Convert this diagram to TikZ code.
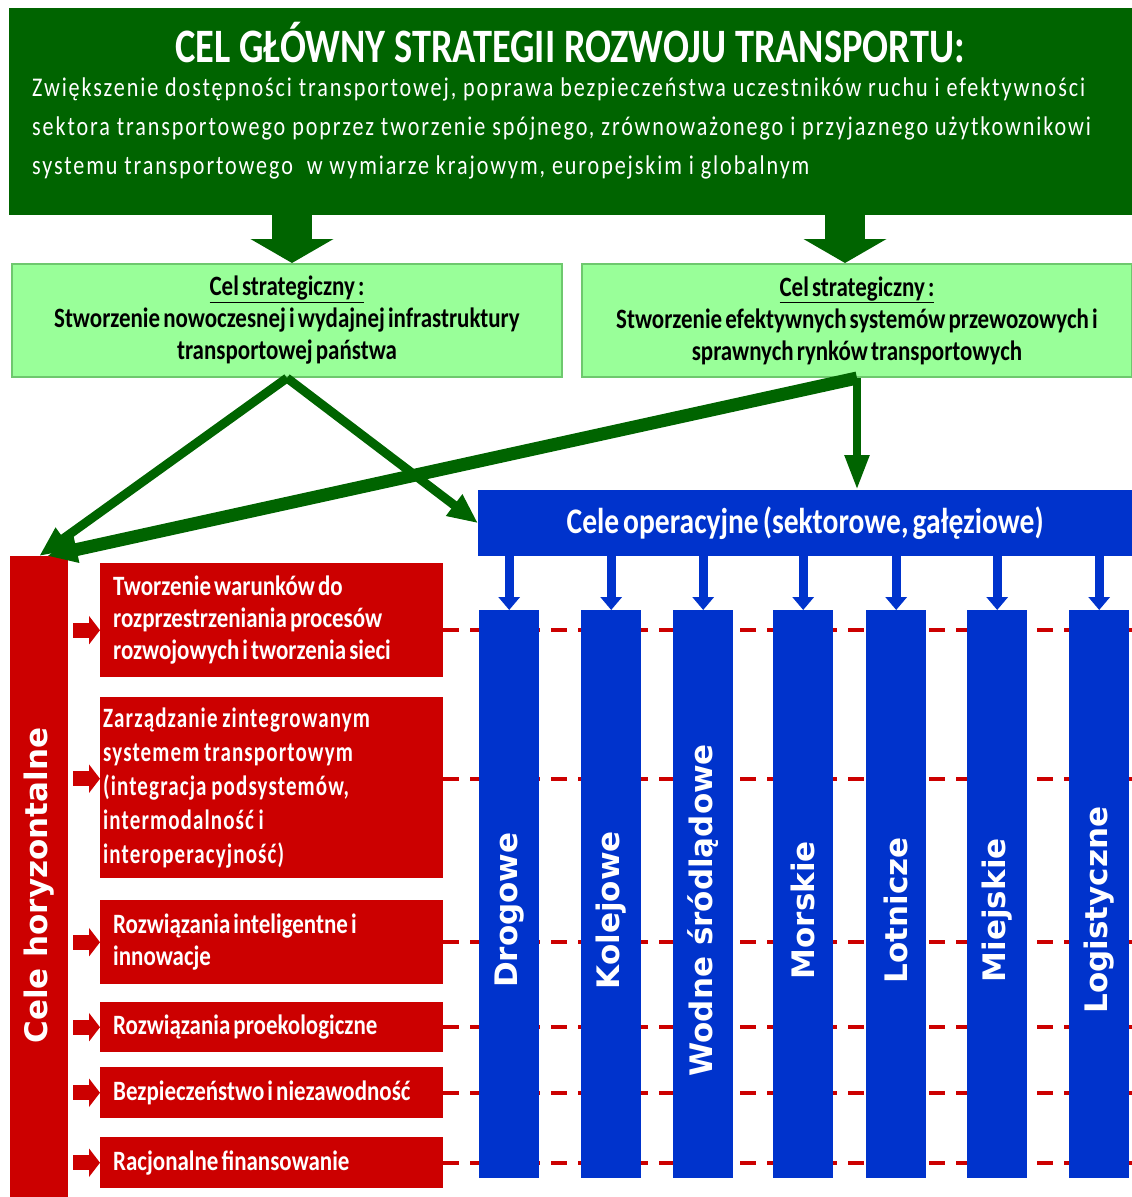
\documentclass[tikz,border=0pt]{standalone}
\usepackage{fontspec}
\usetikzlibrary{arrows.meta}

\newfontfamily\condfont[FakeStretch=0.82,WordSpace=0.6]{Carlito}
\newfontfamily\titlefont[FakeStretch=0.8]{Carlito}
\newfontfamily\condwide[FakeStretch=0.75,LetterSpace=4.0,WordSpace=0.8]{Carlito}
\newfontfamily\bodyfont[FakeStretch=0.82,LetterSpace=7.0]{Carlito}
\newfontfamily\wfont{DejaVu Sans}

\definecolor{darkgreen}{RGB}{0,100,0}
\definecolor{lightgreen}{RGB}{153,255,153}
\definecolor{boxgreen}{RGB}{110,200,110}
\definecolor{opblue}{RGB}{0,51,204}
\definecolor{hred}{RGB}{204,0,0}

\tikzset{
	box/.style={anchor=north west, inner sep=0pt},
	stratbox/.style={box, fill=lightgreen, draw=boxgreen, line width=2pt, minimum width=550pt, minimum height=113pt, align=center, font={\condfont\bfseries\fontsize{28}{32}\selectfont}},
	redbox/.style={box, fill=hred, text=white, minimum width=343pt, inner xsep=13pt, text width=317pt, align=flush left, font={\condfont\bfseries\fontsize{28}{32}\selectfont}},
	colbox/.style={box, fill=opblue, minimum width=60pt, minimum height=568pt},
	coltext/.style={rotate=90, text=white, font={\wfont\bfseries\fontsize{31}{31}\selectfont}},
	bigarrow/.style={darkgreen, line width=40pt, -{Triangle[length=24pt,width=82pt]}},
	greenarrow/.style={darkgreen, line width=9pt, -{Triangle[length=30pt,width=25pt]}},
	bluearrow/.style={opblue, line width=9pt, -{Triangle[length=13pt,width=21pt]}},
	redarrow/.style={hred, line width=15pt, -{Triangle[length=11pt,width=28pt]}},
	dashline/.style={hred, line width=4pt, dash pattern=on 16pt off 11pt}
}

\begin{document}
\begin{tikzpicture}[x=1pt, y=-1pt]
	\useasboundingbox (0,0) rectangle (1132,1197);
	\coordinate (rightedge) at (1132,0);

	\node[box, fill=darkgreen, minimum width=1123pt, minimum height=207pt] (main) at (9,8) {};
	\node[text=white, font={\titlefont\bfseries\fontsize{48}{48}\selectfont}] (title) at (570,43) {CEL GŁÓWNY STRATEGII ROZWOJU TRANSPORTU:};
	\node[box, text=white, align=left, font={\bodyfont\fontsize{27}{39}\selectfont}] (goal) at (32,78) {Zwiększenie dostępności transportowej, poprawa bezpieczeństwa uczestników ruchu i efektywności\\sektora transportowego poprzez tworzenie spójnego, zrównoważonego i przyjaznego użytkownikowi\\systemu transportowego \ w wymiarze krajowym, europejskim i globalnym};

	\node[stratbox] (stratL) at (11,263) {\underline{Cel strategiczny :}\\Stworzenie nowoczesnej i wydajnej infrastruktury\\transportowej państwa};
	\node[stratbox] (stratR) at (581,263) {\underline{Cel strategiczny :}\\Stworzenie efektywnych systemów przewozowych i\\sprawnych rynków transportowych};

	\node[box, fill=opblue, minimum width=654pt, minimum height=66pt, text=white, font={\condfont\bfseries\fontsize{36}{36}\selectfont}] (oper) at (478,490) {Cele operacyjne (sektorowe, gałęziowe)};

	\node[box, fill=hred, minimum width=58pt, minimum height=641pt] (horiz) at (10,556) {};
	\node[coltext] (horizText) at ([yshift=-9pt]horiz.center) {Cele horyzontalne};

	\node[redbox, minimum height=114pt] (h1) at (100,563) {Tworzenie warunków do\\rozprzestrzeniania procesów\\rozwojowych i tworzenia sieci};
	\node[redbox, minimum height=181pt, inner xsep=3pt, text width=337pt, font={\condwide\bfseries\fontsize{28}{34}\selectfont}] (h2) at (100,697) {Zarządzanie zintegrowanym\\systemem transportowym\\(integracja podsystemów,\\intermodalność i\\interoperacyjność)};
	\node[redbox, minimum height=84pt] (h3) at (100,900) {Rozwiązania inteligentne i\\innowacje};
	\node[redbox, minimum height=50pt] (h4) at (100,1002) {Rozwiązania proekologiczne};
	\node[redbox, minimum height=51pt] (h5) at (100,1067) {Bezpieczeństwo i niezawodność};
	\node[redbox, minimum height=51pt] (h6) at (100,1137) {Racjonalne finansowanie};

	\draw[dashline] ([yshift=-10pt]h1.east) -- ([yshift=-10pt]h1.east -| rightedge);
	\draw[dashline] ([yshift=9pt]h2.east) -- ([yshift=9pt]h2.east -| rightedge);
	\draw[dashline] (h3.east) -- (h3.east -| rightedge);
	\draw[dashline] (h4.east) -- (h4.east -| rightedge);
	\draw[dashline] (h5.east) -- (h5.east -| rightedge);
	\draw[dashline] (h6.east) -- (h6.east -| rightedge);

	\draw[redarrow] ([xshift=5pt,yshift=-10pt]h1.west -| horiz.east) -- ([yshift=-10pt]h1.west);
	\draw[redarrow] ([xshift=5pt,yshift=9pt]h2.west -| horiz.east) -- ([yshift=9pt]h2.west);
	\draw[redarrow] ([xshift=5pt]h3.west -| horiz.east) -- (h3.west);
	\draw[redarrow] ([xshift=5pt]h4.west -| horiz.east) -- (h4.west);
	\draw[redarrow] ([xshift=5pt]h5.west -| horiz.east) -- (h5.west);
	\draw[redarrow] ([xshift=5pt]h6.west -| horiz.east) -- (h6.west);

	\node[colbox] (drog) at (479,610) {};
	\node[colbox] (kol) at (581,610) {};
	\node[colbox] (wod) at (673,610) {};
	\node[colbox] (mor) at (773,610) {};
	\node[colbox] (lot) at (866,610) {};
	\node[colbox] (miej) at (967,610) {};
	\node[colbox] (log) at (1069,610) {};

	\node[coltext] at ([yshift=-16pt]drog.center) {Drogowe};
	\node[coltext] at ([yshift=-16pt]kol.center) {Kolejowe};
	\node[coltext] at ([yshift=-16pt]wod.center) {Wodne śródlądowe};
	\node[coltext] at ([yshift=-16pt]mor.center) {Morskie};
	\node[coltext] at ([yshift=-16pt]lot.center) {Lotnicze};
	\node[coltext] at ([yshift=-16pt]miej.center) {Miejskie};
	\node[coltext] at ([yshift=-16pt]log.center) {Logistyczne};

	\draw[bluearrow] (drog.north |- oper.south) -- (drog.north);
	\draw[bluearrow] (kol.north |- oper.south) -- (kol.north);
	\draw[bluearrow] (wod.north |- oper.south) -- (wod.north);
	\draw[bluearrow] (mor.north |- oper.south) -- (mor.north);
	\draw[bluearrow] (lot.north |- oper.south) -- (lot.north);
	\draw[bluearrow] (miej.north |- oper.south) -- (miej.north);
	\draw[bluearrow] (log.north |- oper.south) -- (log.north);

	\draw[bigarrow] ([xshift=5pt]stratL.north |- main.south) -- ([xshift=5pt]stratL.north);
	\draw[bigarrow] ([xshift=-12pt]stratR.north |- main.south) -- ([xshift=-12pt]stratR.north);

	\draw[greenarrow] (stratL.south) -- (horiz.north);
	\draw[greenarrow] (stratL.south) -- (oper.west);
	\draw[greenarrow, line width=13pt] (stratR.south) -- ([xshift=8pt]horiz.north);
	\draw[greenarrow, line width=8pt, -{Triangle[length=35pt,width=23pt]}] (stratR.south) -- (stratR.south |- oper.north);
\end{tikzpicture}
\end{document}
